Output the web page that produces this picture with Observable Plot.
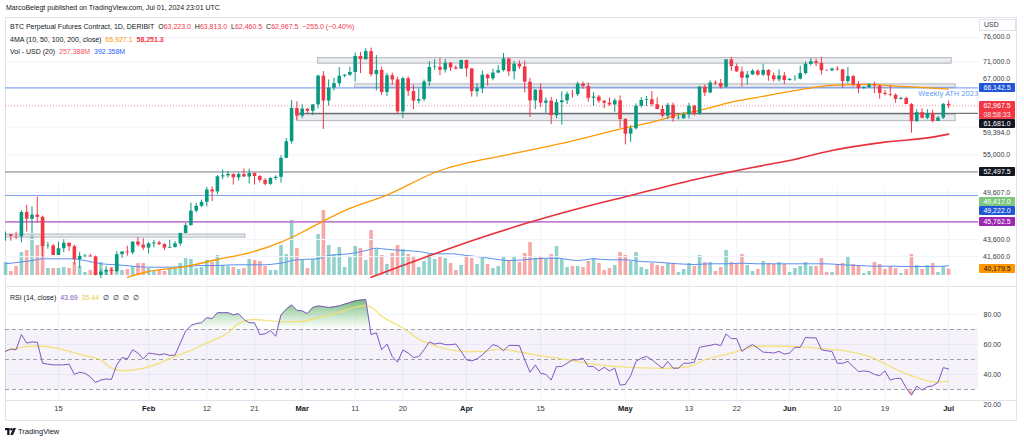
<!DOCTYPE html>
<html><head><meta charset="utf-8">
<script src="https://cdn.jsdelivr.net/npm/d3@7"></script>
<script src="https://cdn.jsdelivr.net/npm/@observablehq/plot@0.6"></script>
<style>
html,body{margin:0;padding:0;background:#fff;}
#chart{position:relative;width:1024px;height:441px;overflow:hidden;background:#fff;font-family:"Liberation Sans",Arial,sans-serif;color:#131722;}
#chart svg{position:absolute;left:0;top:0;}
.t{position:absolute;white-space:nowrap;font-size:7px;line-height:9px;}
.tag{position:absolute;left:979px;width:36px;font-size:7px;line-height:9px;text-align:center;border-radius:1px;}
.lbl{position:absolute;left:983px;font-size:7px;line-height:9px;color:#363a45;white-space:nowrap;}
.ln{position:absolute;background:#e0e3eb;}
</style></head><body><div id="chart"></div>
<script>
// ---------------- DATA ----------------
const candleStart = "2024-01-05";
const opens = [
44150,44160,43970,43930,46970,46110,46630,46340,42780,42840,
41730,42510,43150,42740,41260,41620,41660,41570,39510,39850,
40080,39930,41820,42120,42030,43300,42940,42580,43080,43190,
43000,42580,42660,43080,44330,45300,47150,47770,48290,49960,
49700,51800,51940,52150,51660,52120,51780,52280,51850,51300,
50740,51570,51730,54500,57050,62500,61200,62400,62030,63130,
68330,63800,66100,66920,68300,68500,69020,72120,71480,73080,
68600,69400,65320,68390,67610,61930,67840,65500,63780,64060,
67230,69960,69990,69450,70780,69890,69650,71330,69700,65450,
65980,68500,67840,68900,69360,71620,69140,70590,70060,67190,
63820,65740,63420,63790,61280,63510,63840,64990,64930,66840,
66410,64280,64500,63760,63420,63110,63840,60640,58250,59120,
62890,63890,64030,63160,62330,61190,63050,60790,60790,61450,
62900,61550,66270,65230,67050,66940,66280,71450,70140,69120,
67930,68530,69270,68510,69400,68370,67630,68350,67490,67710,
67750,68800,70570,71080,70760,69340,69300,69650,69510,67320,
68240,66750,66010,66190,66640,66490,65140,64960,64830,64100,
64250,63180,60280,61800,60860,61610,60320,60890,63223];
const highs = [
44500,44220,44500,47200,47900,47700,49000,46500,43250,43000,
43300,43570,43200,42930,42100,41850,41880,41670,40100,40480,
40300,42200,42180,42800,43300,43850,43700,43250,43480,43380,
43100,43500,43350,44370,45580,48200,48150,48580,50300,50380,
52000,52800,52550,52200,52380,52950,52900,52350,52000,51550,
51700,51950,54900,57550,63900,63680,63150,62450,63200,68500,
69170,67600,67900,69950,68600,70000,72800,72900,73650,73800,
72300,70050,68850,68900,68100,68100,68200,66650,65950,67600,
71100,71500,71700,71500,70950,70300,71350,71350,69700,66900,
69300,68700,69650,70300,72700,71750,71150,71250,71200,67900,
65800,66850,64350,64450,64100,65450,65400,65700,67200,67200,
67050,65300,64800,63900,64350,64200,64700,60800,59600,63300,
64450,64600,65450,64350,62980,63400,63450,61400,61800,63400,
63050,66450,66700,67450,67400,67700,71500,71950,70650,70050,
69200,69550,69500,70600,69550,68900,69500,69000,67850,68400,
70200,71050,71700,71600,71950,69550,69850,70150,69550,69950,
68450,67300,66400,66950,67200,66550,65700,66450,65050,64500,
64500,63350,62300,62450,62300,62200,61150,63350,63813];
const lows = [
43400,43400,43600,43200,44500,44300,45600,41500,42450,41720,
41720,42050,42200,40680,40300,41450,41500,39450,38500,39500,
39550,39820,41400,41650,41800,42700,42300,41900,42600,42880,
42300,42550,42580,42800,44300,45250,46900,47600,47700,48400,
49300,51400,51600,50650,51200,51700,50800,50650,50950,50550,
50600,51300,50900,54450,56700,60500,60800,61600,61300,62400,
59000,62900,65600,66300,68000,68300,67200,68800,71400,68200,
65600,64800,64600,66600,61500,60800,64600,62300,63300,63700,
66400,69400,68400,68900,69200,69500,69600,68100,64500,64500,
65100,66500,67450,68800,69100,68300,67600,69600,65250,61000,
62300,62650,61700,59800,60800,59700,63200,64300,64600,65900,
63600,62850,63350,62450,62900,61850,59200,56550,56950,58900,
62600,62850,62800,62300,60900,60650,60200,60550,60650,60750,
61200,61350,64600,65100,66600,65950,66100,69200,69050,66300,
66650,68500,68300,68250,67350,67200,67200,66700,67400,67350,
67600,68550,70250,70150,68500,69200,69150,69250,66100,66900,
66300,65100,65900,66050,65100,64100,64700,64550,63400,63950,
63150,58400,60250,60750,60600,60050,60300,60650,62460.5];
const closes = [
44160,43970,43930,46970,46110,46630,46340,42780,42840,41730,
42510,43150,42740,41260,41620,41660,41570,39510,39850,40080,
39930,41820,42120,42030,43300,42940,42580,43080,43190,43000,
42580,42660,43080,44330,45300,47150,47770,48290,49960,49700,
51800,51940,52150,51660,52120,51780,52280,51850,51300,50740,
51570,51730,54500,57050,62500,61200,62400,62030,63130,68330,
63800,66100,66920,68300,68500,69020,72120,71480,73080,68600,
69400,65320,68390,67610,61930,67840,65500,63780,64060,67230,
69960,69990,69450,70780,69890,69650,71330,69700,65450,65980,
68500,67840,68900,69360,71620,69140,70590,70060,67190,63820,
65740,63420,63790,61280,63510,63840,64990,64930,66840,66410,
64280,64500,63760,63420,63110,63840,60640,58250,59120,62890,
63890,64030,63160,62330,61190,63050,60790,60790,61450,62900,
61550,66270,65230,67050,66940,66280,71450,70140,69120,67930,
68530,69270,68510,69400,68370,67630,68350,67490,67710,67750,
68800,70570,71080,70760,69340,69300,69650,69510,67320,68240,
66750,66010,66190,66640,66490,65140,64960,64830,64100,64250,
63180,60280,61800,60860,61610,60320,60890,63222.5,62967.5];
const volumesM = [
520,160,360,920,1000,1600,1200,1600,280,280,
280,320,280,520,360,120,200,120,520,120,
320,480,200,240,360,480,480,280,160,200,
160,240,280,480,680,640,280,320,600,520,
800,400,360,320,240,280,640,600,560,360,
200,200,1200,840,2200,1080,600,280,640,1640,
2600,1200,840,1120,320,760,1160,1080,600,1800,
1040,800,440,880,1200,1040,840,760,320,560,
840,640,760,680,480,200,400,760,680,
440,680,440,280,360,760,600,760,520,880,
1320,680,760,640,840,1160,640,320,360,360,
320,560,680,480,200,280,400,920,800,560,
920,320,240,480,400,360,480,480,120,240,
480,360,800,520,520,160,320,1000,520,480,
840,400,160,240,560,480,440,520,440,120,
280,360,520,360,360,680,120,120,440,480,
760,440,400,80,160,520,440,240,360,280,
80,240,840,400,240,400,480,120,360,257.388];
const rsiValues = [
55.4,57.0,56.5,66.6,61.0,61.7,61.5,47.5,46.9,46.4,
46.4,46.4,46.9,40.1,41.5,40.8,38.5,34.7,36.3,37.0,
36.7,46.4,51.3,50.4,56.5,54.3,50.4,54.3,53.8,53.1,
53.8,52.7,52.9,61.0,68.9,72.7,74.0,74.5,77.9,77.2,
81.2,81.2,81.2,79.7,80.6,76.7,74.5,74.5,66.6,67.1,
69.3,65.5,79.7,83.5,86.4,82.8,82.4,80.6,84.6,85.7,
85.3,84.6,85.1,85.7,86.9,88.0,89.1,89.6,90.0,66.6,
67.8,56.5,60.3,52.0,48.2,56.3,54.3,51.3,52.0,56.5,
61.7,60.3,61.0,59.9,59.9,60.3,55.4,49.8,49.1,50.4,
53.1,56.5,59.9,58.8,55.8,59.4,59.4,
59.2,49.8,41.5,46.4,40.8,40.1,36.3,45.3,45.3,47.5,
49.8,49.8,50.9,45.3,45.3,42.4,44.8,42.4,44.2,32.9,
33.4,39.2,48.7,50.9,52.0,49.8,46.9,44.2,48.7,44.2,
44.2,47.5,47.5,48.2,58.1,58.8,59.4,60.3,59.2,67.1,
63.9,63.9,55.4,58.1,59.9,57.6,54.9,54.7,54.3,55.4,
53.6,54.3,58.1,58.1,64.8,64.4,64.4,56.5,55.8,55.4,
47.5,47.5,48.7,45.3,41.9,42.4,41.9,40.1,39.2,42.4,
36.3,37.4,37.4,31.1,26.2,32.2,29.6,31.8,32.5,34.7,
44.6,43.69];
const rsiSmaDates = ["2024-01-05","2024-01-10","2024-01-12","2024-01-17","2024-01-20","2024-01-23","2024-01-25","2024-01-27","2024-01-31","2024-02-03","2024-02-06","2024-02-10","2024-02-12","2024-02-16","2024-02-18","2024-02-21","2024-02-23","2024-02-27","2024-03-01","2024-03-04","2024-03-07","2024-03-11","2024-03-13","2024-03-14","2024-03-16","2024-03-20","2024-03-23","2024-03-26","2024-03-29","2024-04-01","2024-04-04","2024-04-07","2024-04-14","2024-04-20","2024-04-26","2024-05-03","2024-05-09","2024-05-13","2024-05-16","2024-05-21","2024-05-26","2024-05-31","2024-06-06","2024-06-12","2024-06-16","2024-06-22","2024-06-26","2024-06-28","2024-07-01"];
const rsiSmaValues = [55.8,58.8,58.8,55.4,52.5,49.8,44.2,42.5,44.2,47.5,52.0,57.6,61.0,67.8,73.9,76.7,76.1,75.1,75.5,77.8,80.4,84.9,86.0,84.9,78.9,71.0,63.6,59.3,56.4,55.3,55.3,56.9,53.1,49.8,46.4,44.6,44.2,45.3,49.8,54.3,58.8,58.8,57.6,55.4,52.0,41.9,36.9,35.1,35.44];
const ma100Dates = ["2024-01-28","2024-02-01","2024-02-08","2024-02-14","2024-02-20","2024-02-26","2024-03-01","2024-03-04","2024-03-10","2024-03-16","2024-03-27","2024-04-10","2024-04-19","2024-04-29","2024-05-06","2024-05-12","2024-05-15","2024-05-21","2024-05-28","2024-06-03","2024-06-09","2024-06-16","2024-06-22","2024-06-28","2024-07-01"];
const ma100Values = [39300,39930,40480,41270,42030,43280,44480,45520,47490,48980,52710,55240,56780,58850,60210,61660,62180,63610,64790,65820,66600,66780,66420,66110,65927.1];
const ma200Dates = ["2024-03-14","2024-04-04","2024-04-12","2024-04-22","2024-05-02","2024-05-15","2024-05-25","2024-06-01","2024-06-09","2024-06-19","2024-06-28","2024-07-01"];
const ma200Values = [39300,43870,45520,47440,49210,51570,53150,54180,55690,56980,57770,58251.3];
const volSmaDates = ["2024-01-05","2024-01-10","2024-01-12","2024-01-17","2024-01-20","2024-01-23","2024-01-26","2024-01-29","2024-02-01","2024-02-05","2024-02-08","2024-02-11","2024-02-14","2024-02-17","2024-02-20","2024-02-23","2024-02-25","2024-02-27","2024-02-28","2024-03-01","2024-03-04","2024-03-06","2024-03-07","2024-03-10","2024-03-13","2024-03-15","2024-03-16","2024-03-20","2024-03-23","2024-03-26","2024-03-29","2024-04-01","2024-04-04","2024-04-06","2024-04-09","2024-04-12","2024-04-14","2024-04-18","2024-04-22","2024-04-25","2024-04-28","2024-05-01","2024-05-04","2024-05-07","2024-05-11","2024-05-14","2024-05-17","2024-05-20","2024-05-23","2024-05-26","2024-05-29","2024-06-02","2024-06-05","2024-06-08","2024-06-11","2024-06-14","2024-06-17","2024-06-20","2024-06-24","2024-06-27","2024-06-30","2024-07-01"];
const volSmaValues = [468,600,668,668,600,468,428,372,332,332,360,400,400,428,428,428,468,532,600,640,668,800,828,868,1000,1092,1068,1000,960,868,868,800,732,668,600,628,668,692,600,668,628,628,560,532,468,440,468,468,492,468,468,468,468,468,428,400,372,372,360,360,372,392.358];
const priceTicks = [76000, 71000, 67000, 59394, 55000, 49607, 43600, 41600];
const rsiTicks = [80, 60, 40, 20];
const timeTickDates = ["2024-01-15","2024-02-01","2024-02-12","2024-02-21","2024-03-01","2024-03-11","2024-03-20","2024-04-01","2024-04-15","2024-05-01","2024-05-13","2024-05-22","2024-06-01","2024-06-10","2024-06-19","2024-07-01"];
const timeTickLabels = ["15","Feb","12","21","Mar","11","20","Apr","15","May","13","22","Jun","10","19","Jul"];
const levelPrices = [66142.5, 52497.5, 49222.0, 45762.5];
const lastPrice = 62967.5;
const rayPrice = 61681.0, rayStart = "2024-02-29";
const zoneStarts = ["2024-03-04","2024-03-11","2024-02-29","2024-01-01"];
const zoneEnds = ["2024-07-01T14:00Z","2024-07-02T08:00Z","2024-07-02T08:00Z","2024-02-19T07:00Z"];
const zoneHighs = [71790, 66780, 61440, 44200];
const zoneLows = [70700, 66180, 60370, 43830];
const tagPrices = [66142.5, 62967.5, 61681.0, 52497.5, 49417.0, 49222.0, 45762.5, 40179.5];
const barCountdown = "08:58:33";
const athNote = "Weekly ATH 2023", athNoteDate = "2024-06-25T07:00Z";

// ---------------- BUILD ----------------
const chart = document.getElementById("chart");
const first = new Date(candleStart);
const candles = opens.map((o, i) => ({
  date: d3.utcDay.offset(first, i), open: o, high: highs[i], low: lows[i], close: closes[i],
  vol: volumesM[i], rsi: rsiValues[i]
}));
const pairs = (ds, vs) => ds.map((d, i) => ({date: new Date(d), value: vs[i]}));
const ma100 = pairs(ma100Dates, ma100Values);
const ma200 = pairs(ma200Dates, ma200Values);
const volSma = pairs(volSmaDates, volSmaValues);
const rsiSma = pairs(rsiSmaDates, rsiSmaValues);
const timeTicks = timeTickDates.map((d, i) => ({date: new Date(d), label: timeTickLabels[i]}));
const zones = zoneStarts.map((s, i) => ({start: new Date(s), end: new Date(zoneEnds[i]), high: zoneHighs[i], low: zoneLows[i]}));

const UP = "#089981", DN = "#f23645";
const isUp = d => d.close >= d.open;
const xDomain = [new Date(Date.UTC(2024,0,5)), new Date(Date.UTC(2024,6,6,15,36))];
const common = {width: 1024, height: 441, marginLeft: 5, marginRight: 46,
  x: {type: "utc", domain: xDomain, axis: null}, color: {type: "identity"}};

// Frame lines
function line(l, t, w, h, c) { const d = document.createElement("div"); d.className = "ln";
  Object.assign(d.style, {left: l+"px", top: t+"px", width: w+"px", height: h+"px"}); if (c) d.style.background = c; chart.appendChild(d); }
line(5, 17, 1012, 1); line(5, 420, 1012, 1); line(5, 17, 1, 404); line(1016, 17, 1, 404);
line(5, 286, 1012, 1); line(5, 400, 1012, 1);

// Volume layer
const vol = Plot.plot({...common, marginTop: 205, marginBottom: 166,
  style: {background: "transparent", overflow: "visible"},
  y: {domain: [0, 2800], axis: null},
  marks: [
    Plot.ruleX(timeTicks, {x: "date", y1: 3500, y2: -600, stroke: "#f0f3fa"}),
    Plot.ruleX(candles, {x: "date", y1: 0, y2: "vol", strokeWidth: 3.6,
      stroke: d => isUp(d) ? "rgba(38,166,154,0.5)" : "rgba(239,83,80,0.5)"}),
    Plot.line(volSma, {x: "date", y: "value", stroke: "#5b8def", strokeWidth: 1, curve: "monotone-x"})
  ]});
chart.appendChild(vol);

// Price layer
const price = Plot.plot({...common, marginTop: 17, marginBottom: 163,
  style: {background: "transparent", overflow: "visible"},
  y: {type: "log", domain: [39170, 80270], axis: null},
  marks: [
    Plot.ruleY(priceTicks, {stroke: "#f0f3fa"}),
    Plot.rect(zones, {x1: "start", x2: "end", y1: "low", y2: "high", fill: "#d1d4dc", fillOpacity: 0.45,
      stroke: "#a3a6af", strokeOpacity: 0.8, strokeWidth: 1, clip: true}),
    Plot.ruleY([levelPrices[0]], {stroke: "#4d7ff0", strokeOpacity: 0.85, strokeWidth: 1}),
    Plot.ruleY([levelPrices[1]], {stroke: "#787b86", strokeWidth: 1}),
    Plot.ruleY([levelPrices[2]], {stroke: "#7c9eec", strokeWidth: 1}),
    Plot.ruleY([levelPrices[3]], {stroke: "#c07fd0", strokeWidth: 1.6}),
    Plot.ruleY([lastPrice], {stroke: "#f23645", strokeOpacity: 0.6, strokeDasharray: "1,2"}),
    Plot.ruleY([rayPrice], {x1: () => new Date(rayStart), x2: () => xDomain[1], stroke: "#50535e", strokeWidth: 1}),
    Plot.line(ma100, {x: "date", y: "value", stroke: "#ff9800", strokeWidth: 1.3, curve: "monotone-x", clip: true}),
    Plot.line(ma200, {x: "date", y: "value", stroke: "#e8303c", strokeWidth: 1.6, curve: "monotone-x", clip: true}),
    Plot.ruleX(candles, {x: "date", y1: "low", y2: "high", stroke: d => isUp(d) ? UP : DN, strokeWidth: 1, clip: true}),
    Plot.ruleX(candles, {x: "date", y1: "open", y2: d => Math.abs(d.close - d.open) < 40 ? d.open * 1.0012 : d.close,
      stroke: d => isUp(d) ? UP : DN, strokeWidth: 3.6, clip: true}),
    Plot.text([athNote], {x: () => new Date(athNoteDate), y: () => levelPrices[0], text: d => d, dy: 6,
      textAnchor: "start", fill: "#5b9cf6", fontSize: 7.5})
  ]});
chart.appendChild(price);

// RSI layer
const rsiPlot = Plot.plot({...common, marginTop: 314, marginBottom: 37,
  style: {background: "transparent", overflow: "visible", fontSize: "7px", color: "#363a45",
    fontFamily: "'Liberation Sans', Arial, sans-serif"},
  y: {domain: [20, 80], axis: "right", ticks: rsiTicks, tickFormat: d3.format(".2f"), tickSize: 0, tickPadding: 5, label: null},
  marks: [
    Plot.ruleX(timeTicks, {x: "date", y1: 97, y2: 23, stroke: "#f0f3fa"}),
    Plot.ruleY([80, 60, 40], {stroke: "#f0f3fa"}),
    Plot.rect([0], {x1: () => xDomain[0], x2: () => xDomain[1], y1: 30, y2: 70, fill: "#7e57c2", fillOpacity: 0.08}),
    Plot.ruleY([70, 50, 30], {stroke: "#9598a1", strokeDasharray: "4,3", strokeWidth: 0.9}),
    Plot.areaY(candles, {x: "date", y1: 70, y2: d => Math.max(d.rsi, 70), fill: "url(#gUp)"}),
    Plot.areaY(candles, {x: "date", y1: 30, y2: d => Math.min(d.rsi, 30), fill: "url(#gDn)"}),
    Plot.line(rsiSma, {x: "date", y: "value", stroke: "#f2df6e", strokeOpacity: 0.85, strokeWidth: 1.4, curve: "monotone-x"}),
    Plot.line(candles, {x: "date", y: "rsi", stroke: "#7e57c2", strokeWidth: 1}),
    Plot.text(timeTicks, {filter: d => !/^[A-Z]/.test(d.label), x: "date", text: "label", frameAnchor: "bottom", dy: 6, fill: "#363a45", fontSize: 7.5}),
    Plot.text(timeTicks, {filter: d => /^[A-Z]/.test(d.label), x: "date", text: "label", frameAnchor: "bottom", dy: 6, fill: "#131722", fontSize: 7.5, fontWeight: "bold"})
  ]});
const defs = document.createElementNS("http://www.w3.org/2000/svg", "defs");
defs.innerHTML = '<linearGradient id="gUp" x1="0" y1="0" x2="0" y2="1"><stop offset="0" stop-color="#43a047" stop-opacity="0.75"/><stop offset="1" stop-color="#66bb6a" stop-opacity="0"/></linearGradient>' +
  '<linearGradient id="gDn" x1="0" y1="0" x2="0" y2="1"><stop offset="0" stop-color="#ef5350" stop-opacity="0"/><stop offset="1" stop-color="#ef5350" stop-opacity="0.7"/></linearGradient>';
rsiPlot.insertBefore(defs, rsiPlot.firstChild);
chart.appendChild(rsiPlot);

// ---------------- TEXT OVERLAYS ----------------
function text(l, t, html, extra) { const d = document.createElement("div"); d.className = "t";
  d.style.left = l + "px"; d.style.top = t + "px"; d.innerHTML = html; if (extra) Object.assign(d.style, extra); chart.appendChild(d); return d; }
const f1 = d3.format(",.1f"), n = candles.length - 1;
const sp = (c, s) => `<span style="color:${c}">${s}</span>`;
const chg = closes[n] - closes[n - 1];
text(6, 3, "MarcoBelegt published on TradingView.com, Jul 01, 2024 23:01 UTC");
text(10, 22, "BTC Perpetual Futures Contract, 1D, DERIBIT&nbsp; O" + sp(DN, f1(opens[n])) + "&nbsp; H" + sp(DN, f1(highs[n])) +
  "&nbsp; L" + sp(DN, f1(lows[n])) + "&nbsp; C" + sp(DN, f1(closes[n])) + "&nbsp; " +
  sp(DN, d3.format(".1f")(chg).replace("-", "−") + " (" + d3.format(".2%")(chg / closes[n - 1]).replace("-", "−") + ")"));
text(10, 35, "4MA (10, 50, 100, 200, close)&nbsp; " + sp("#ff9800", f1(ma100Values[ma100Values.length - 1])) + "&nbsp; " +
  sp(DN, "<b>" + f1(ma200Values[ma200Values.length - 1]) + "</b>"));
text(10, 47, "Vol - USD (20)&nbsp; " + sp("#f7525f", d3.format(".3f")(volumesM[n]) + "M") + "&nbsp; " +
  sp("#2962ff", d3.format(".3f")(volSmaValues[volSmaValues.length - 1]) + "M"));
text(10, 293, "RSI (14, close)&nbsp; " + sp("#7e57c2", d3.format(".2f")(rsiValues[n])) + "&nbsp; " +
  sp("#e8cf3a", d3.format(".2f")(rsiSmaValues[rsiSmaValues.length - 1])) + "&nbsp; ∅&nbsp; ∅&nbsp; ∅&nbsp; ∅");
// footer logo + name
const logo = document.createElementNS("http://www.w3.org/2000/svg", "svg");
logo.setAttribute("width", 12); logo.setAttribute("height", 8);
logo.style.cssText = "position:absolute;left:5px;top:428px;";
logo.innerHTML = '<rect x="0" y="0" width="4.5" height="2.2" fill="#131722"/><rect x="2.2" y="0" width="2.3" height="7" fill="#131722"/><circle cx="6.4" cy="1.3" r="1.2" fill="#131722"/><path d="M8.3 0 H11 L8 7 H5.3 Z" fill="#131722"/>';
chart.appendChild(logo);
text(18, 427, "TradingView", {fontSize: "7.5px"});

// USD box
text(979, 19, "USD", {width: "31px", height: "10px", border: "1px solid #e0e3eb", paddingLeft: "4px", color: "#363a45"});

// ---------------- PRICE AXIS LABELS + TAGS ----------------
const ys = price.scale("y");
const tagStyle = [
  {bg: "#2157d6", fg: "#fff"}, {bg: "#f23645", fg: "#fff"}, {bg: "#131722", fg: "#fff"}, {bg: "#131722", fg: "#fff"},
  {bg: "#7cc67f", fg: "#fff"}, {bg: "#2157d6", fg: "#fff"}, {bg: "#9c27b0", fg: "#fff"}, {bg: "#ff9800", fg: "#131722"}];
const items = [];
tagPrices.forEach((v, i) => items.push({kind: "tag", v, i, y: ys.apply(v), h: i === 1 ? 18 : 9}));
priceTicks.forEach(v => items.push({kind: "label", v, y: ys.apply(v), h: 9, free: v === 67000}));
const act = items.filter(d => !d.free).sort((a, b) => a.y - b.y);
let prevBottom = -Infinity;
for (const d of act) { d.top = Math.max(d.y - 4.5, prevBottom); prevBottom = d.top + d.h; }
// labels left out of the downward pass sit just above the tag that would cover them
items.filter(d => d.free).forEach(d => {
  const below = act.filter(t => t.kind === "tag" && t.top + t.h > d.y - 4.5 && t.top < d.y + 4.5);
  d.top = below.length ? Math.min(d.y - 4.5, Math.min(...below.map(t => t.top)) - 9) : d.y - 4.5;
});
items.filter(d => d.kind === "label").forEach(d => {
  const e = document.createElement("div"); e.className = "lbl"; e.style.top = d.top + "px"; e.textContent = f1(d.v); chart.appendChild(e); });
items.filter(d => d.kind === "tag").forEach(d => {
  const e = document.createElement("div"); e.className = "tag"; const s = tagStyle[d.i];
  Object.assign(e.style, {top: d.top + "px", height: d.h + "px", background: s.bg, color: s.fg});
  e.innerHTML = f1(d.v) + (d.i === 1 ? `<br><span style="opacity:.85">${barCountdown}</span>` : "");
  chart.appendChild(e); });
</script></body></html>
